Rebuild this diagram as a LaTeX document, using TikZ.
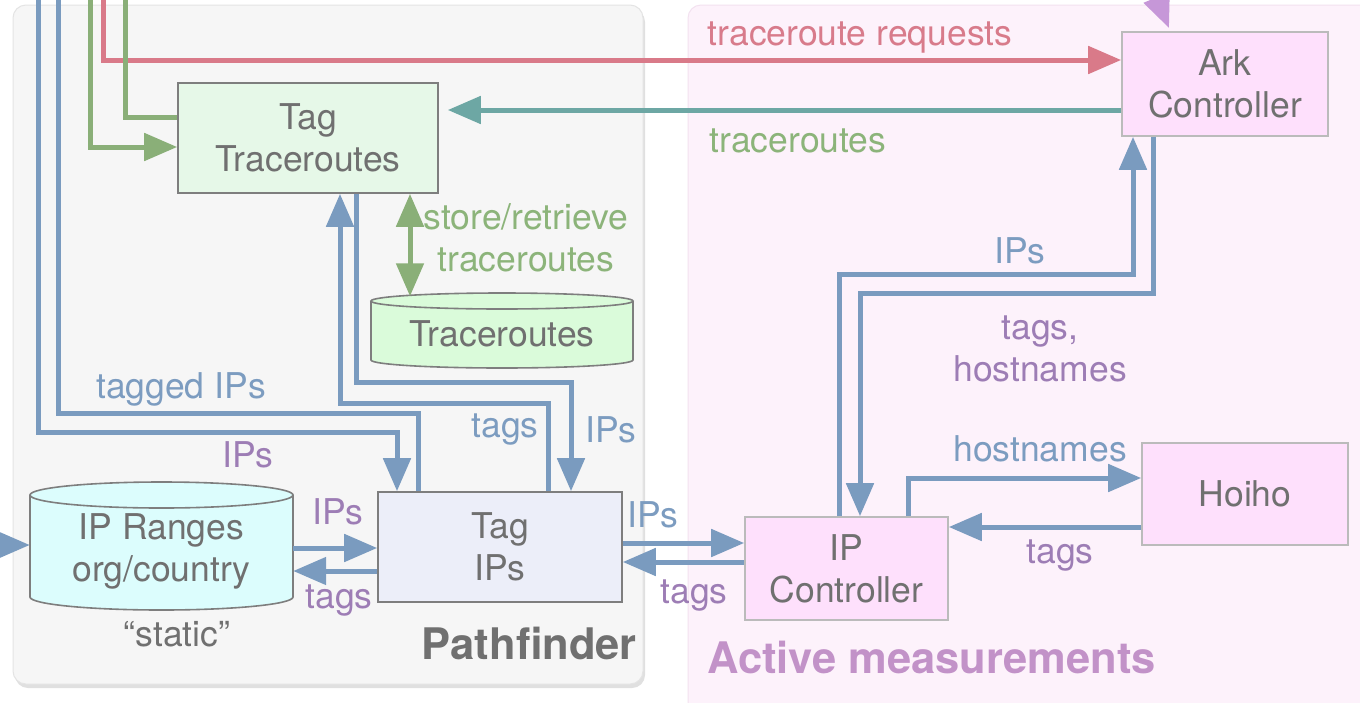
\documentclass[tikz,border=0pt]{standalone}
\usepackage{fontspec}
\setmainfont{TeX Gyre Heros}
\usetikzlibrary{arrows.meta,calc}

\definecolor{flowblue}{HTML}{7A9BBF}
\definecolor{flowgreen}{HTML}{8AAF78}
\definecolor{flowred}{HTML}{D97A89}
\definecolor{flowteal}{HTML}{6DA7A4}
\definecolor{flowpurple}{HTML}{C697D8}
\definecolor{lblblue}{HTML}{7C9CC0}
\definecolor{lblpurple}{HTML}{9D7DB5}
\definecolor{lblgreen}{HTML}{8CB47A}
\definecolor{lblred}{HTML}{D87B8B}
\definecolor{txtgray}{HTML}{707070}
\definecolor{pfpanel}{HTML}{F6F6F6}
\definecolor{pfedge}{HTML}{E4E4E4}
\definecolor{ampanel}{HTML}{FDF2FB}
\definecolor{amedge}{HTML}{F3E2F0}
\definecolor{amtitle}{HTML}{C292C8}
\definecolor{darkedge}{HTML}{7E7E7E}
\definecolor{lightedge}{HTML}{BBBBBB}
\definecolor{greenbox}{HTML}{E6F8E8}
\definecolor{bluebox}{HTML}{ECEEF9}
\definecolor{pinkbox}{HTML}{FEE0FC}
\definecolor{greendb}{HTML}{DAFBDA}
\definecolor{cyandb}{HTML}{DCFDFD}

\newcommand{\bodyfont}{\fontsize{35.5}{42}\selectfont}

\tikzset{
  procbox/.style={draw=#1, line width=1.6pt, text=txtgray, align=center,
    inner sep=0pt, font=\bodyfont},
  dbtext/.style={text=txtgray, align=center, inner sep=0pt, font=\bodyfont},
  dbshape/.style={draw=darkedge, line width=1.6pt},
  flow/.style={line width=5pt, draw=#1, line cap=butt, line join=miter,
    -{Triangle[length=33pt,width=27pt]}},
  bothflow/.style={line width=5pt, draw=#1,
    {Triangle[length=33pt,width=27pt]}-{Triangle[length=33pt,width=27pt]}},
  lbl/.style={text=#1, font=\bodyfont, inner sep=0pt, align=center},
  paneltitle/.style={text=#1, font=\fontsize{43.5}{50}\selectfont\bfseries, inner sep=0pt},
}

\begin{document}
\begin{tikzpicture}[x=1pt, y=-1pt]
\useasboundingbox (0,0) rectangle (1360,702);
\fill[white] (0,0) rectangle (1360,702);

% panels
\fill[black!12, rounded corners=13pt] (15,9) rectangle (645,688);
\filldraw[fill=pfpanel, draw=pfedge, line width=1pt, rounded corners=13pt]
  (13,5) rectangle (643,684);
\filldraw[fill=ampanel, draw=amedge, line width=1pt, rounded corners=13pt]
  (688,5) rectangle (1380,730);

\node[paneltitle=txtgray, anchor=east] (pftitle) at (637,643) {Pathfinder};
\node[paneltitle=amtitle, anchor=west] (amtitle) at (707,657) {Active measurements};

% database cylinders
\path[fill=cyandb] (30,495) -- (30,597) arc[start angle=180, end angle=0, x radius=131.5, y radius=13]
  -- (293,495) arc[start angle=0, end angle=-180, x radius=131.5, y radius=13] -- cycle;
\draw[dbshape] (30,495) -- (30,597) arc[start angle=180, end angle=0, x radius=131.5, y radius=13]
  -- (293,495);
\draw[dbshape] (161.5,495) ellipse[x radius=131.5, y radius=13];
\node[dbtext, minimum width=263pt, minimum height=128pt] (iprng) at (161.5,551)
  {IP Ranges\\org/country};
\node[text=txtgray, font=\bodyfont, inner sep=0pt] (static) at (177,634) {“static”};

\path[fill=greendb] (371,301) -- (371,360) arc[start angle=180, end angle=0, x radius=131, y radius=8]
  -- (633,301) arc[start angle=0, end angle=-180, x radius=131, y radius=8] -- cycle;
\draw[dbshape] (371,301) -- (371,360) arc[start angle=180, end angle=0, x radius=131, y radius=8]
  -- (633,301);
\draw[dbshape] (502,301) ellipse[x radius=131, y radius=8];
\node[dbtext, minimum width=262pt, minimum height=75pt] (trdb) at (502,334) {Traceroutes};

% process boxes
\node[procbox=darkedge, fill=greenbox, minimum width=260pt, minimum height=110pt]
  (tagtr) at (308,138) {Tag\\Traceroutes};
\node[procbox=darkedge, fill=bluebox, minimum width=244pt, minimum height=110pt]
  (tagip) at (500,547) {Tag\\IPs};
\node[procbox=lightedge, fill=pinkbox, minimum width=206pt, minimum height=104pt]
  (ark) at (1225,84) {Ark\\Controller};
\node[procbox=lightedge, fill=pinkbox, minimum width=203pt, minimum height=103pt]
  (ipc) at (846.5,568.5) {IP\\Controller};
\node[procbox=lightedge, fill=pinkbox, minimum width=206pt, minimum height=102pt]
  (hoiho) at (1245,494) {Hoiho};

% ends that leave the drawing
\coordinate (ipsin) at (38,-80);
\coordinate (taggedout) at (58,-80);
\coordinate (trin) at (90,-80);
\coordinate (reqin) at (103,-80);
\coordinate (trout) at (125,-80);
\coordinate (arkin) at (1125,-80);
\coordinate (rangesin) at (-60,545);

% traceroute requests and replies
\draw[flow=flowred] (reqin) |- (ark.west |- 0,60);
\draw[flow=flowgreen] (trin) |- (tagtr.west |- 0,147);
\draw[flow=flowgreen] (tagtr.west |- 0,117) -| (trout);
\draw[flow=flowteal, shorten >=9pt] (ark.west |- 0,110) -- (tagtr.east |- 0,110);
\draw[flow=flowpurple] (arkin) -- (1169,28);
\draw[bothflow=flowgreen] (410,0 |- tagtr.south) -- (410,0 |- trdb.north);

% Pathfinder internal flows
\draw[flow=flowblue] (ipsin) |- (397,432) -- (397,0 |- tagip.north);
\draw[flow=flowblue] (418,0 |- tagip.north) |- (58,413) -- (taggedout);
\draw[flow=flowblue] (548,0 |- tagip.north) |- (340,403) -- (340,0 |- tagtr.south);
\draw[flow=flowblue] (356,0 |- tagtr.south) |- (571,382) -- (571,0 |- tagip.north);
\draw[flow=flowblue] (rangesin) -- (iprng.west |- 0,545);
\draw[flow=flowblue] (iprng.east |- 0,548) -- (tagip.west |- 0,548);
\draw[flow=flowblue] (tagip.west |- 0,571) -- (iprng.east |- 0,571);

% between the panels
\draw[flow=flowblue] (tagip.east |- 0,543) -- (ipc.west |- 0,543);
\draw[flow=flowblue] (ipc.west |- 0,562) -- (tagip.east |- 0,562);

% active measurement flows
\draw[flow=flowblue] (839,0 |- ipc.north) |- (1133,274) -- (1133,0 |- ark.south);
\draw[flow=flowblue] (1153,0 |- ark.south) |- (860,293) -- (860,0 |- ipc.north);
\draw[flow=flowblue] (908,0 |- ipc.north) |- (hoiho.west |- 0,478);
\draw[flow=flowblue] (hoiho.west |- 0,527) -- (ipc.east |- 0,527);

% connector labels
\node[lbl=lblred] (lreq) at (860,38) {traceroute requests};
\node[lbl=lblgreen] (ltr) at (798,141) {traceroutes};
\node[lbl=lblgreen] (lstore) at (526,238) {store/retrieve\\traceroutes};
\node[lbl=lblblue] (ltagged) at (181,389) {tagged IPs};
\node[lbl=lblpurple] (lips1) at (248,455) {IPs};
\node[lbl=lblblue] (ltags1) at (505,430) {tags};
\node[lbl=lblblue] (lips2) at (611,430) {IPs};
\node[lbl=lblpurple] (lips3) at (338,512) {IPs};
\node[lbl=lblpurple] (ltags2) at (339,601) {tags};
\node[lbl=lblblue] (lips4) at (653,515) {IPs};
\node[lbl=lblpurple] (ltags3) at (694,596) {tags};
\node[lbl=lblblue] (lips5) at (1020,251) {IPs};
\node[lbl=lblpurple] (lth) at (1040,349) {tags,\\hostnames};
\node[lbl=lblblue] (lhost) at (1040,449) {hostnames};
\node[lbl=lblpurple] (ltags4) at (1060,556) {tags};
\end{tikzpicture}
\end{document}
